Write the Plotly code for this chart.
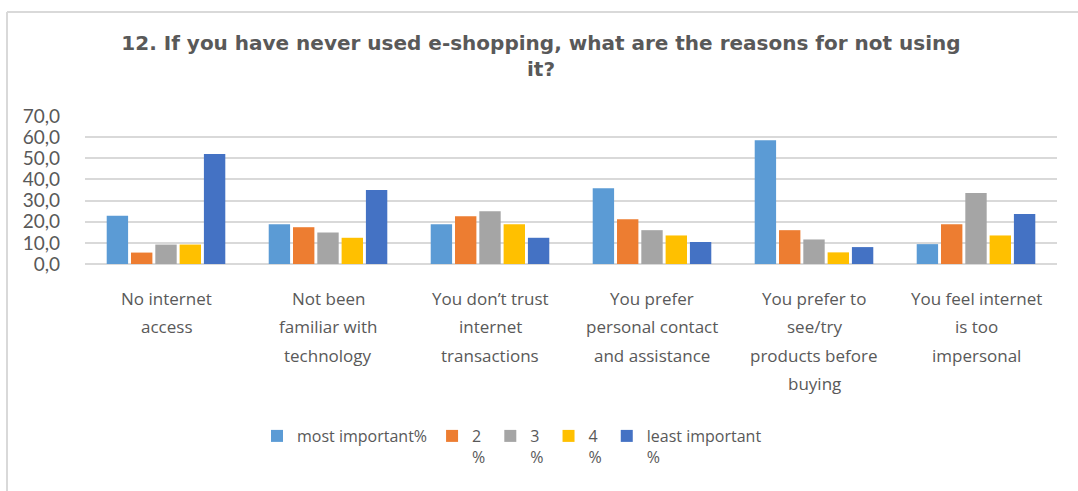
import plotly.graph_objects as go

# Survey reasons (x-axis categories); "\n" marks the wrapped lines of each label
categories = [
    "No internet\naccess",
    "Not been\nfamiliar with\ntechnology",
    "You don’t trust\ninternet\ntransactions",
    "You prefer\npersonal contact\nand assistance",
    "You prefer to\nsee/try\nproducts before\nbuying",
    "You feel internet\nis too\nimpersonal",
]

# Importance ranking shares (%) per reason
most_important = [22.8, 18.8, 18.8, 35.8, 58.5, 9.4]
rank_2 = [5.4, 17.4, 22.6, 21.2, 16.0, 18.8]
rank_3 = [9.2, 14.9, 25.0, 16.0, 11.6, 33.6]
rank_4 = [9.2, 12.4, 18.8, 13.5, 5.5, 13.5]
least_important = [52.0, 35.0, 12.4, 10.4, 8.0, 23.7]

series_names = ["most important%", "2<br>%", "3<br>%", "4<br>%", "least important<br>%"]
series_values = [most_important, rank_2, rank_3, rank_4, least_important]
series_colors = ["#5B9BD5", "#ED7D31", "#A5A5A5", "#FFC000", "#4472C4"]

y_ticks = [0, 10, 20, 30, 40, 50, 60, 70]

fig = go.Figure()
for name, vals, col in zip(series_names, series_values, series_colors):
    fig.add_trace(go.Bar(name=name, x=categories, y=vals, marker_color=col,
                         marker_line_width=0))

W, H = 1078, 491
ML, MR, MT, MB = 85, 21, 116, 227
pw = W - ML - MR
ph = H - MT - MB

def px_x(x):
    return (x - ML) / pw

def px_y(y):
    return (H - MB - y) / ph

text_col = "#595959"
label_font = dict(family="Open Sans", size=17, color=text_col)

# Category labels: one annotation per wrapped line, centred under each group
annotations = []
for cat in categories:
    for i, line in enumerate(cat.split("\n")):
        annotations.append(dict(
            x=cat, xref="x", y=0, yref="paper",
            text=line, showarrow=False,
            xanchor="center", yanchor="middle",
            yshift=-(34 + 28.5 * i),
            font=label_font,
        ))

fig.update_layout(
    width=W, height=H,
    margin=dict(l=ML, r=MR, t=MT, b=MB),
    paper_bgcolor="white", plot_bgcolor="white",
    barmode="group", bargap=0.25, bargroupgap=0.12,
    title=dict(
        text="12. If you have never used e-shopping, what are the reasons for not using<br>it?",
        x=541 / W, xanchor="center", xref="container",
        y=1 - 50 / H, yanchor="top", yref="container",
        font=dict(family="DejaVu Sans", size=20, color=text_col, weight="bold"),
    ),
    font=dict(family="Open Sans", color=text_col),
    separators=",.",
    showlegend=True,
    legend=dict(
        orientation="h", x=px_x(512), xanchor="center",
        y=px_y(419), yanchor="top", valign="top",
        font=dict(family="Open Sans", size=16, color=text_col),
        traceorder="normal",
    ),
    annotations=annotations,
    shapes=[
        dict(type="line", xref="paper", yref="paper",
             x0=px_x(7), x1=px_x(W), y0=px_y(12), y1=px_y(12),
             line=dict(color="#D9D9D9", width=2)),
        dict(type="line", xref="paper", yref="paper",
             x0=px_x(7), x1=px_x(7), y0=px_y(12), y1=px_y(H),
             line=dict(color="#D9D9D9", width=2)),
    ],
)

fig.update_xaxes(
    showgrid=False, showline=False, zeroline=False, ticks="",
    showticklabels=False,
)
fig.update_yaxes(
    range=[0, 70], tickvals=y_ticks, tickformat=".1f",
    showgrid=True, gridcolor="#D9D9D9", gridwidth=1.5,
    zeroline=True, zerolinecolor="#D9D9D9", zerolinewidth=1.5,
    showline=False, ticks="", ticklabelstandoff=24,
    tickfont=dict(family="Lato", size=19, color=text_col),
)

fig.write_html("out.html")
